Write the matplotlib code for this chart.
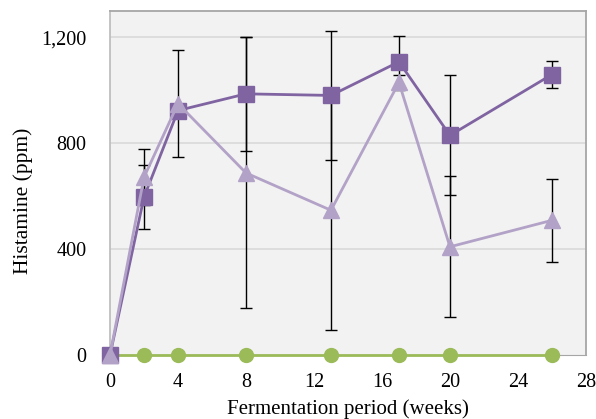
import numpy as np
import matplotlib
matplotlib.use("Agg")
import matplotlib.pyplot as plt
from matplotlib.ticker import FuncFormatter

plt.rcParams['font.family'] = ['Liberation Serif', 'DejaVu Serif']

# fermentation weeks
weeks = [0, 2, 4, 8, 13, 17, 20, 26]

# square series (dark purple)
sq_vals = [0, 597, 924, 987, 981, 1108, 830, 1060]
sq_err = [0, 122, 0, 215, 245, 98, 227, 50]

# triangle series (light purple)
tri_vals = [0, 672, 950, 688, 547, 1030, 409, 509]
tri_err = [0, 105, 203, 512, 453, 28, 266, 158]

# circle series (green), all zero
circ_vals = [0, 0, 0, 0, 0, 0, 0, 0]

yticks = [0, 400, 800, 1200]
xticks = [0, 4, 8, 12, 16, 20, 24, 28]

fig = plt.figure(figsize=(5.96, 4.19), dpi=100)
ax = fig.add_axes([0.1846, 0.1527, 0.7985, 0.821])
ax.set_facecolor('#F2F2F2')

for y in yticks[1:]:
    ax.axhline(y, color='#D9D9D9', lw=1.2, zorder=0)

# green
ax.plot(weeks, circ_vals, color='#9BBB59', lw=2, marker='o', ms=10,
        zorder=3, clip_on=False)

# error bars
ax.errorbar(weeks, sq_vals, yerr=sq_err, fmt='none', ecolor='black',
            elinewidth=1, capsize=4.5, capthick=1, zorder=2)
ax.errorbar(weeks, tri_vals, yerr=tri_err, fmt='none', ecolor='black',
            elinewidth=1, capsize=4.5, capthick=1, zorder=2)

ax.plot(weeks, sq_vals, color='#8064A2', lw=2, marker='s', ms=11,
        zorder=4, clip_on=False)
ax.plot(weeks, tri_vals, color='#B3A2C7', lw=2, marker='^', ms=12,
        zorder=5, clip_on=False)

ax.set_xlim(0, 28)
ax.set_ylim(0, 1300)
ax.set_xticks(xticks)
ax.set_yticks(yticks)
ax.yaxis.set_major_formatter(FuncFormatter(lambda v, p: f"{int(v):,}"))
ax.tick_params(axis='both', length=0, labelsize=14.5)
ax.tick_params(axis='x', pad=13)
ax.tick_params(axis='y', pad=17)

for s in ['top', 'right']:
    ax.spines[s].set_color('#A6A6A6')
    ax.spines[s].set_linewidth(1.3)
ax.spines['left'].set_color('#BFBFBF')
ax.spines['left'].set_linewidth(1.3)
ax.spines['bottom'].set_color('#A6A6A6')

ax.set_xlabel('Fermentation period (weeks)', fontsize=15, labelpad=5)
ax.set_ylabel('Histamine (ppm)', fontsize=15.5)
ax.yaxis.set_label_coords(-0.162, 0.448)

fig.savefig('out.png', dpi=100)
